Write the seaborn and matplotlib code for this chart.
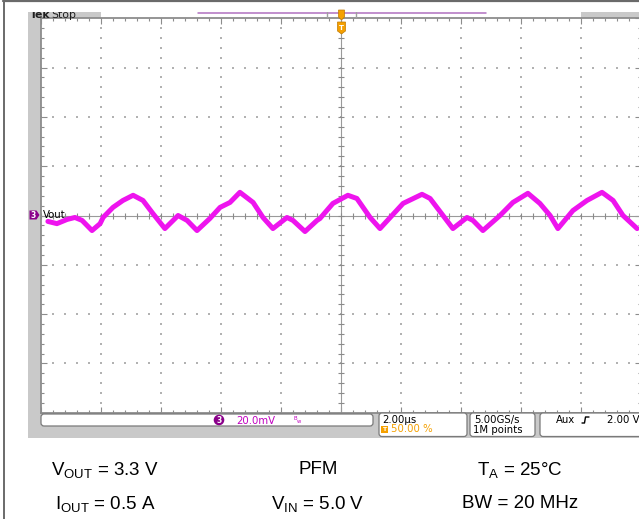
import numpy as np
import pandas as pd
import matplotlib
matplotlib.use("Agg")
import matplotlib.pyplot as plt
import seaborn as sns
from matplotlib.patches import Rectangle, FancyBboxPatch, Circle, Polygon
from matplotlib.lines import Line2D
from matplotlib.transforms import Affine2D
from matplotlib.ticker import MultipleLocator, NullFormatter

# ---------------- data ----------------
time_us = [-9.77, -9.47, -9.13, -8.87, -8.63, -8.30, -8.03, -7.93, -7.60, -7.27,
           -6.93, -6.60, -6.27, -5.87, -5.43, -5.13, -4.80, -4.37, -4.03, -3.70,
           -3.37, -2.93, -2.60, -2.27, -1.80, -1.60, -1.20, -0.80, -0.70, -0.27,
           0.23, 0.53, 0.97, 1.30, 1.70, 2.07, 2.70, 2.97, 3.40, 3.73,
           4.20, 4.40, 4.73, 5.30, 5.73, 6.23, 6.63, 6.97, 7.23, 7.73,
           8.20, 8.70, 9.07, 9.40, 9.87]
vout_mV = [-2.4, -3.3, -1.6, -0.8, -2.0, -6.1, -3.3, -0.8, 3.3, 6.1,
           8.2, 6.1, 0.8, -5.3, 0.0, -2.0, -6.1, -1.2, 3.3, 5.3,
           9.4, 5.3, -0.8, -5.3, -0.8, -2.0, -6.5, -2.0, -1.2, 4.9,
           8.2, 6.9, -0.8, -5.3, 0.0, 4.9, 8.6, 6.9, 0.0, -5.3,
           -0.8, -2.0, -6.1, 0.0, 5.3, 9.0, 4.9, 0.0, -5.3, 2.0,
           6.1, 9.4, 6.1, 0.0, -5.3]

time_div_us = 2.0          # 2.00 us/div, 10 divisions
volt_div_mV = 20.0         # 20.0 mV/div, 8 divisions
n_xdiv = 10
n_ydiv = 8

channel_label = "Vout"
scale_label = "20.0mV"
timebase_label = "2.00\u00b5s"
trigger_pos_label = "50.00 %"
sample_labels = ["5.00GS/s", "1M points"]
trigger_labels = ["Aux", "2.00 V"]
cond_row1 = [r"$\mathregular{V_{OUT}}$ = 3.3 V", "PFM", r"$\mathregular{T_{A}}$ = 25°C"]
cond_row2 = [r"$\mathregular{I_{OUT}}$ = 0.5 A", r"$\mathregular{V_{IN}}$ = 5.0 V", "BW = 20 MHz"]

# ---------------- style ----------------
sns.set_style("white")
plt.rcParams['font.family'] = ['DejaVu Sans']
plt.rcParams['mathtext.fontset'] = 'custom'
plt.rcParams['mathtext.rm'] = 'Liberation Sans'
plt.rcParams['mathtext.it'] = 'Liberation Sans:italic'
plt.rcParams['mathtext.bf'] = 'Liberation Sans:bold'

W, H = 639, 519
fig = plt.figure(figsize=(W / 100, H / 100), dpi=100)
fig.patch.set_facecolor("white")
T = Affine2D().scale(1 / W, -1 / H).translate(0, 1) + fig.transFigure

PANEL = "#c9c9c9"
EDGE = "#8c8c8c"
MAG = "#ee14ee"
PURPLE = "#8a008a"
ORANGE = "#f5a000"

def rect(x0, y0, x1, y1, fc, ec="none", lw=0, z=1):
    r = Rectangle((x0, y0), x1 - x0, y1 - y0, transform=T, facecolor=fc,
                  edgecolor=ec, linewidth=lw, zorder=z)
    fig.add_artist(r)
    return r

def rbox(x0, y0, x1, y1, z=2):
    b = FancyBboxPatch((x0, y0), x1 - x0, y1 - y0, boxstyle="round,pad=0,rounding_size=3",
                       transform=T, facecolor="white", edgecolor="#7a7a7a",
                       linewidth=0.9, zorder=z, mutation_aspect=1)
    fig.add_artist(b)

def line(xs, ys, color, lw, z=3, **kw):
    fig.add_artist(Line2D(xs, ys, transform=T, color=color, linewidth=lw, zorder=z, **kw))

def text(x, y, s, z=6, **kw):
    return fig.text(x, y, s, transform=T, zorder=z, **kw)

# gray scope panel
rect(28, 12, W + 2, 437.5, PANEL, z=-2)
# white area in top strip
rect(101, 10, 581, 18, "white", z=-1)

# ---------------- plot area ----------------
ax_l, ax_t, ax_w, ax_h = 41, 18.3, 600, 394.4
ax = fig.add_axes([ax_l / W, 1 - (ax_t + ax_h) / H, ax_w / W, ax_h / H], zorder=0)
ax.set_facecolor("white")
xmax = n_xdiv / 2 * time_div_us
ymax = n_ydiv / 2 * volt_div_mV
ax.set_xlim(-xmax, xmax)
ax.set_ylim(-ymax, ymax)

# dotted graticule
xmaj = np.arange(-xmax, xmax + 1e-9, time_div_us)
ymaj = np.arange(-ymax, ymax + 1e-9, volt_div_mV)
xmin_steps = np.arange(-xmax, xmax + 1e-9, time_div_us / 5)
ymin_steps = np.arange(-ymax, ymax + 1e-9, volt_div_mV / 5)
gx, gy = [], []
for xv in xmaj[1:-1]:
    if abs(xv) < 1e-9:
        continue
    gx += [xv] * len(ymin_steps)
    gy += list(ymin_steps)
for yv in ymaj[1:-1]:
    if abs(yv) < 1e-9:
        continue
    gx += list(xmin_steps)
    gy += [yv] * len(xmin_steps)
ax.scatter(gx, gy, s=1.2, marker="s", color="#b2b2b2", linewidths=0, zorder=1)

# center cross with ticks
ax.axhline(0, color="#9a9a9a", lw=0.8, zorder=1)
ax.axvline(0, color="#9a9a9a", lw=0.8, zorder=1)
tx = 3 * (2 * xmax) / ax_w
ty = 3 * (2 * ymax) / ax_h
ax.vlines(xmin_steps, -ty, ty, color="#8a8a8a", lw=0.8, zorder=1)
ax.hlines(ymin_steps, -tx, tx, color="#8a8a8a", lw=0.8, zorder=1)

# trace
df = pd.DataFrame({"time_us": time_us, "vout_mV": vout_mV})
sns.lineplot(data=df, x="time_us", y="vout_mV", ax=ax, color=MAG, linewidth=3.6,
             zorder=3)
ax.set_xlabel("")
ax.set_ylabel("")

# border ticks
ax.xaxis.set_major_locator(MultipleLocator(time_div_us))
ax.yaxis.set_major_locator(MultipleLocator(volt_div_mV))
ax.xaxis.set_minor_locator(MultipleLocator(time_div_us / 5))
ax.yaxis.set_minor_locator(MultipleLocator(volt_div_mV / 5))
ax.xaxis.set_major_formatter(NullFormatter())
ax.yaxis.set_major_formatter(NullFormatter())
ax.tick_params(which="both", direction="in", top=True, right=True, bottom=True, left=True,
               color=EDGE, width=0.8)
ax.tick_params(which="major", length=4)
ax.tick_params(which="minor", length=2.5)
for s in ax.spines.values():
    s.set_color(EDGE)
    s.set_linewidth(1.3)
ax.grid(False)

# ---------------- top strip ----------------
line([198, 486], [13.2, 13.2], "#b070c0", 1.1, z=3)
line([327, 327], [11.5, 17], "#a0a0a0", 1.0, z=3)
line([356, 356], [11.5, 17], "#a0a0a0", 1.0, z=3)
fig.add_artist(Polygon([[338.5, 10], [344.5, 10], [344.5, 17], [341.5, 20], [338.5, 17]],
                       closed=True, transform=T, facecolor=ORANGE, edgecolor="#c07800",
                       linewidth=0.5, zorder=7))
fig.add_artist(Polygon([[337.5, 22], [345.5, 22], [345.5, 31], [341.5, 34], [337.5, 31]],
                       closed=True, transform=T, facecolor=ORANGE, edgecolor="#c07800",
                       linewidth=0.5, zorder=7))
text(341.5, 27.5, "T", color="white", fontsize=5, fontweight="bold", ha="center",
     va="center", z=8)

# Tek Stop (clipped by the top of the panel)
text(30, 17.8, "Tek", fontsize=7.8, fontweight="bold", color="#202020", va="baseline", z=4)
text(51, 17.8, "Stop", fontsize=7.8, color="#202020", va="baseline", z=4)
rect(4.5, 2.5, W + 2, 11.8, "white", z=5)

# outer frame
line([3.5, 3.5], [1, H + 2], "#6a6a6a", 1.4, z=9)
line([3, W + 2], [1.2, 1.2], "#6a6a6a", 1.6, z=9)

# channel marker + label
fig.add_artist(Polygon([[29.5, 210.5], [36.5, 210.5], [39.5, 215], [36.5, 219.5], [29.5, 219.5]],
                       closed=True, transform=T, facecolor=PURPLE, edgecolor="none", zorder=7))
text(33.3, 215.2, "3", color="white", fontsize=5.5, fontweight="bold", ha="center",
     va="center", z=8)
text(42.5, 218.5, channel_label, fontsize=7.3, color="black", va="baseline", z=8)

# ---------------- bottom info boxes ----------------
rbox(41, 414, 373, 426)
rbox(379, 413, 467, 436.5)
rbox(470, 413, 535, 436.5)
rbox(540, 413, W + 8, 436.5)

fig.add_artist(Circle((219, 420), 5.3, transform=T, facecolor=PURPLE, edgecolor="none", zorder=7))
text(219, 420.3, "3", color="white", fontsize=5.5, fontweight="bold", ha="center",
     va="center", z=8)
text(236, 424, scale_label, fontsize=7.3, color="#c000c0", va="baseline")
text(294, 420.5, "B", fontsize=3.8, color="#c000c0", va="baseline")
text(297, 423, "w", fontsize=3.8, color="#c000c0", va="baseline")

text(382, 423, timebase_label, fontsize=7.3, color="black", va="baseline")
rect(381, 426, 387.5, 432.5, ORANGE, z=6)
text(384.3, 429.4, "T", color="white", fontsize=4.5, fontweight="bold", ha="center",
     va="center", z=8)
text(391, 432.5, trigger_pos_label, fontsize=7.3, color=ORANGE, va="baseline")

text(474, 423, sample_labels[0], fontsize=7.3, color="black", va="baseline")
text(473, 433, sample_labels[1], fontsize=7.3, color="black", va="baseline")

text(556, 423, trigger_labels[0], fontsize=7.3, color="black", va="baseline")
line([582, 584.5, 585.5, 589], [423, 423, 417, 417], "black", 1.0, z=7)
text(607, 423, trigger_labels[1], fontsize=7.3, color="black", va="baseline")

# ---------------- test conditions ----------------
cols = [105, 318, 520]
for cx, s in zip(cols, cond_row1):
    text(cx, 474.5, s, fontsize=13.5, family="Liberation Sans", ha="center",
         va="baseline", color="black")
for cx, s in zip(cols, cond_row2):
    text(cx, 508.5, s, fontsize=13.5, family="Liberation Sans", ha="center",
         va="baseline", color="black")

fig.savefig("out.png", dpi=100)
